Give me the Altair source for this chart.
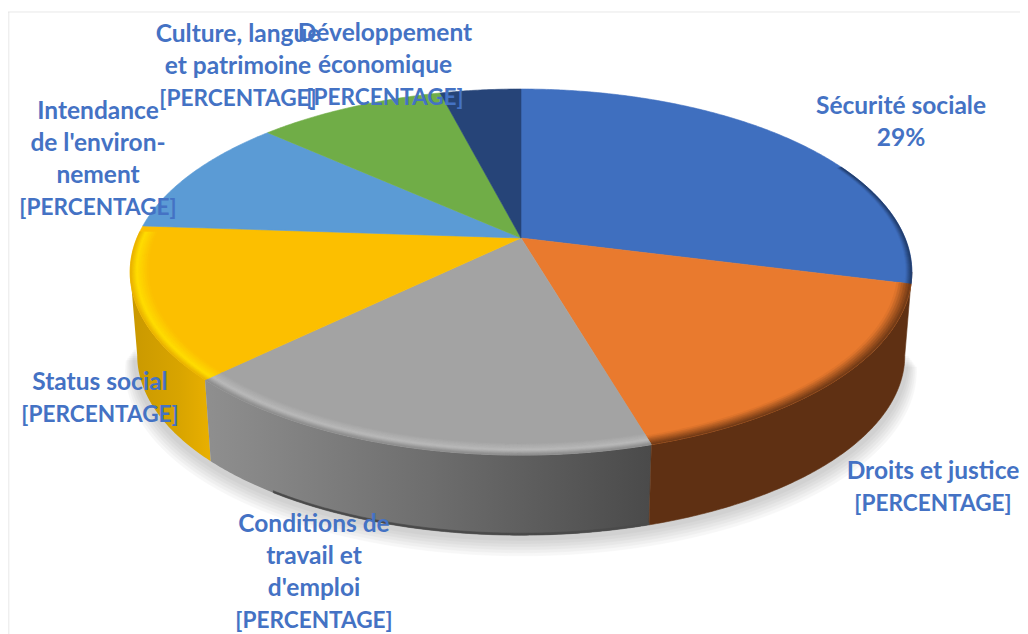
import math
import altair as alt

# ---- data
categories = ["Sécurité sociale", "Droits et justice", "Conditions de travail et d'emploi",
              "Status social", "Intendance de l'environnement",
              "Culture, langue et patrimoine", "Développement économique"]
shares = [29, 16.5, 17.2, 13.4, 10.6, 9.3, 4.0]
label_lines = [["Sécurité sociale", "29%"],
               ["Droits et justice", "[PERCENTAGE]"],
               ["Conditions de", "travail et", "d'emploi", "[PERCENTAGE]"],
               ["Status social", "[PERCENTAGE]"],
               ["Intendance", "de l'environ-", "nement", "[PERCENTAGE]"],
               ["Culture, langue", "et patrimoine", "[PERCENTAGE]"],
               ["Développement", "économique", "[PERCENTAGE]"]]

# ---- styling / layout (separate from the data)
top_colors = ["#3F6FBF", "#E97A2E", "#A3A3A3", "#FCBF00", "#5B9BD5", "#70AD47", "#264478"]
label_pos = [(901, 107), (933, 472), (314, 525), (100, 383), (98, 112), (238, 35), (385, 34)]
LINE_STEP = 32
CX, CY, A, B, K, DEPTH = 521, 238, 384, 176.7, 0.186, 84
W, H = 1012, 626


def project(theta_deg, r=1.0, drop=0.0, shrink=1.0):
    t = math.radians(theta_deg)
    u, v = r * math.sin(t), r * math.cos(t)
    w = 1 + K * v
    return [CX + A * shrink * u / w, CY - B * shrink * v / w + drop]


def arc(a, b, r=1.0, drop=0.0, shrink=1.0):
    n = max(2, int(abs(b - a) * 2))
    return [project(a + (b - a) * i / n, r, drop, shrink) for i in range(n + 1)]


def feature(ring, fill, kind="Polygon"):
    coords = [ring + [ring[0]]] if kind == "Polygon" else ring
    return {"type": "Feature", "properties": {"fill": fill},
            "geometry": {"type": kind, "coordinates": coords}}


def wedge(a, b, fill):
    return feature([[CX, CY]] + arc(a, b), fill)


def band(a, b, r1, r2, fill):
    return feature(arc(a, b, r2) + arc(b, a, r1), fill)


def wall(a, b, d1, d2, fill):
    s1, s2 = 1 - 0.018 * d1, 1 - 0.018 * d2
    return feature(arc(a, b, 1, DEPTH * d1, s1) + arc(b, a, 1, DEPTH * d2, s2), fill)


def mix(c1, c2, f):
    p = [int(c1[i:i + 2], 16) for i in (1, 3, 5)]
    q = [int(c2[i:i + 2], 16) for i in (1, 3, 5)]
    return "#" + "".join(f"{round(x + (y - x) * f):02X}" for x, y in zip(p, q))


def soft(a, b, r1, r2, c1, c2, steps=6):
    """Stepped rim shading from colour c1 at r1 to colour c2 at r2."""
    out = []
    for i in range(steps):
        lo = r1 + (r2 - r1) * i / steps
        hi = r1 + (r2 - r1) * (i + 1) / steps
        out.append(band(a, b, lo, hi, mix(c1, c2, (i + 0.5) / steps)))
    return out


edges = [0]
for s in shares:
    edges.append(edges[-1] + s * 3.6)
spans = list(zip(edges[:-1], edges[1:]))

LEFT_T, RIGHT_T = 259.3, 100.7   # silhouette tangents of the ellipse


def layer(features, **mark):
    base = alt.Chart(alt.InlineData(values=features))
    if "fill" in mark:
        return base.mark_geoshape(**mark)
    return base.mark_geoshape(strokeWidth=0.6, **mark).encode(
        fill=alt.Fill("properties.fill:N", scale=None, legend=None),
        stroke=alt.Stroke("properties.fill:N", scale=None, legend=None))


# soft shadow under the disc
shadow = []
for grow, dy in [(1.026, 13), (1.022, 11), (1.018, 9), (1.014, 7), (1.010, 5), (1.006, 3)]:
    shadow.append(feature(arc(100, 262, grow, DEPTH + dy, 0.985), "#000000"))
shadow_layer = layer(shadow, opacity=0.028)

# side walls
gold = alt.Gradient(gradient="linear", x1=0, x2=1, y1=0, y2=0,
                    stops=[alt.GradientStop(color="#C99800", offset=0),
                           alt.GradientStop(color="#D8A400", offset=0.6),
                           alt.GradientStop(color="#E9B000", offset=1)])
steel = alt.Gradient(gradient="linear", x1=0, x2=1, y1=0, y2=0,
                     stops=[alt.GradientStop(color="#8F8F8F", offset=0),
                            alt.GradientStop(color="#6E6E6E", offset=0.5),
                            alt.GradientStop(color="#4A4A4A", offset=1)])
wall_yellow = layer([wall(spans[3][0], LEFT_T, 0, 1, "#D8A400")], fill=gold, strokeWidth=0)
wall_gray = layer([wall(spans[2][0], spans[2][1], 0, 1, "#777777")], fill=steel, strokeWidth=0)
wall_rest = layer([
    wall(RIGHT_T, spans[1][1], 0, 1, "#5F3013"),
    wall(spans[2][0], spans[2][1] - 12, 0.975, 1, "#4A4A4A"),
])

# top faces
tops = layer([wedge(a, b, c) for (a, b), c in zip(spans, top_colors)])

# bevel highlights on the rim
rims = layer(
    soft(spans[0][1] - 40, spans[0][1], 0.985, 1.0, "#3F6FBF", "#1F3864")
    + soft(spans[1][0], spans[1][1], 0.965, 1.0, "#E97A2E", "#6A3615")
    + soft(spans[2][0], spans[2][1], 0.955, 0.982, "#A3A3A3", "#BABABA")
    + soft(spans[2][0], spans[2][1], 0.982, 1.0, "#BABABA", "#8A8A8A")
    + soft(spans[3][0], 272, 0.955, 0.985, "#FCBF00", "#FFDE00")
    + soft(spans[3][0], 272, 0.985, 1.0, "#FFDE00", "#E8B000")
)

# chart frame (left and top only, the picture is cropped elsewhere)
frame = layer([
    feature([[8.8, 12], [8.8, 640]], "#D9D9D9", "LineString"),
    feature([[8, 12], [1040, 12]], "#D9D9D9", "LineString"),
], filled=False)

label_rows = []
for cat, share, lines, (px, py) in zip(categories, shares, label_lines, label_pos):
    for i, line in enumerate(lines):
        label_rows.append({"category": cat, "share": share, "text": line,
                           "lon": px, "lat": py + i * LINE_STEP,
                           "size": 22.6 if line.startswith("[") else 24.5})

labels = alt.Chart(alt.InlineData(values=label_rows)).mark_text(
    font="Lato", fontWeight="bold", color="#4472C4",
    align="center", baseline="middle",
).encode(longitude="lon:Q", latitude="lat:Q", text="text:N",
         size=alt.Size("size:Q", scale=None, legend=None))

chart = alt.layer(
    frame, shadow_layer, wall_yellow, wall_gray, wall_rest, tops, rims, labels,
).project(type="identity", scale=1, translate=[-8, -8]).properties(
    width=W, height=H, padding=0, background="#FFFFFF",
).configure_view(stroke=None)

chart.save("out.html", embed_options={"renderer": "svg", "actions": False})
